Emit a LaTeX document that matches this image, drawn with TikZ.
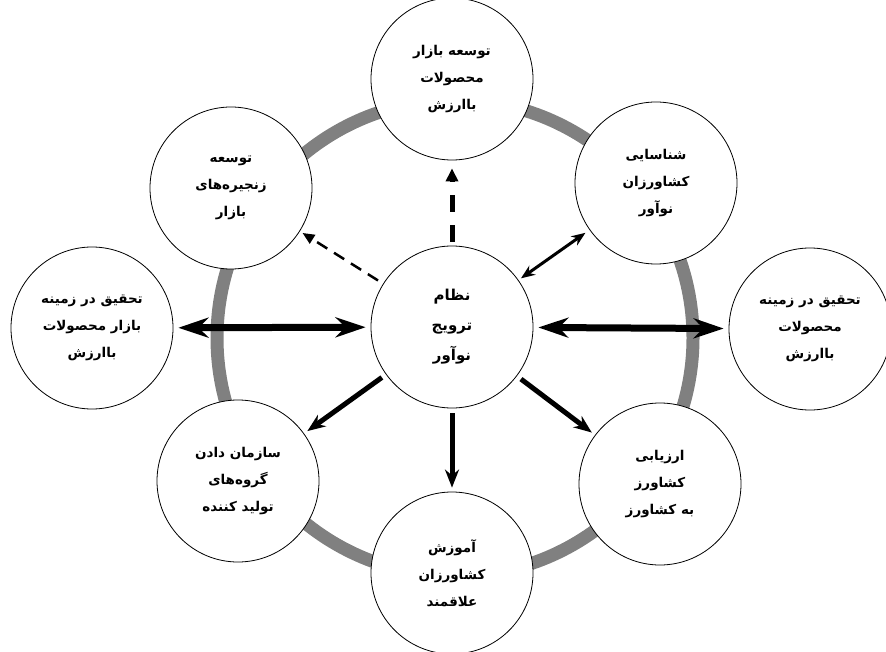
\documentclass[tikz,border=0pt]{standalone}
\usepackage{fontspec}
\newfontfamily\farsi[Script=Arabic]{DejaVu Sans}
\TeXXeTstate=1
\usetikzlibrary{arrows.meta}
\newcommand{\fa}[1]{\beginR #1\endR}

\tikzset{
  stage/.style={draw, circle, line width=0.8pt, fill=white, minimum size=162pt,
    inner sep=0pt, align=center, font=\farsi\bfseries\fontsize{13.5}{27}\selectfont},
  link/.style={line width=5pt, -{Stealth[length=18pt,width=14pt]}},
  bigboth/.style={line width=7pt, {Stealth[length=30pt,width=20pt]}-{Stealth[length=30pt,width=20pt]}},
  smallboth/.style={line width=3pt, {Stealth[length=14pt,width=11pt]}-{Stealth[length=14pt,width=11pt]}},
}

\begin{document}
\begin{tikzpicture}[x=1pt,y=-1pt]
  \useasboundingbox (0,0) rectangle (886,652);
  % the ring behind the circles
  \draw [line width=13pt, color=gray] (455,338) circle (238);

  \node [stage, font=\farsi\bfseries\fontsize{15}{30}\selectfont] (hub) at (452,327) {\fa{نظام}\\ \fa{ترویج}\\ \fa{نوآور}};
  \node [stage] (market) at (452,79) {\fa{توسعه بازار}\\ \fa{محصولات}\\ \fa{باارزش}};
  \node [stage] (chain) at (231,188) {\fa{توسعه}\\ \fa{زنجیره‌های}\\ \fa{بازار}};
  \node [stage] (find) at (656,183) {\fa{شناسایی}\\ \fa{کشاورزان}\\ \fa{نوآور}};
  \node [stage] (resmarket) at (92,328) {\fa{تحقیق در زمینه}\\ \fa{بازار محصولات}\\ \fa{باارزش}};
  \node [stage] (resprod) at (810,329) {\fa{تحقیق در زمینه}\\ \fa{محصولات}\\ \fa{باارزش}};
  \node [stage] (groups) at (238,481) {\fa{سازمان دادن}\\ \fa{گروه‌های}\\ \fa{تولید کننده}};
  \node [stage] (assess) at (660,484) {\fa{ارزیابی}\\ \fa{کشاورز}\\ \fa{به کشاورز}};
  \node [stage] (train) at (452,573) {\fa{آموزش}\\ \fa{کشاورزان}\\ \fa{علاقمند}};

  % arrows
  \draw [line width=5pt, dash pattern=on 17pt off 13pt, -{Triangle[length=13pt,width=12pt]},
    shorten <=4pt, shorten >=8pt] (hub) -- (market);
  \draw [line width=2.5pt, dash pattern=on 12pt off 8pt, -{Triangle[length=12pt,width=10pt]},
    shorten <=6pt, shorten >=3pt] (hub) -- (chain);
  \draw [smallboth, shorten <=3pt, shorten >=5pt] (hub) -- (find);
  \draw [bigboth, shorten <=5pt, shorten >=5pt] (hub) -- (resmarket);
  \draw [bigboth, shorten <=5pt, shorten >=5pt] (hub) -- (resprod);
  \draw [link, shorten <=5pt, shorten >=4pt] (hub) -- (groups);
  \draw [link, shorten <=5pt, shorten >=4pt] (hub) -- (train);
  \draw [link, shorten <=5pt, shorten >=4pt] (hub) -- (assess);
\end{tikzpicture}
\end{document}
